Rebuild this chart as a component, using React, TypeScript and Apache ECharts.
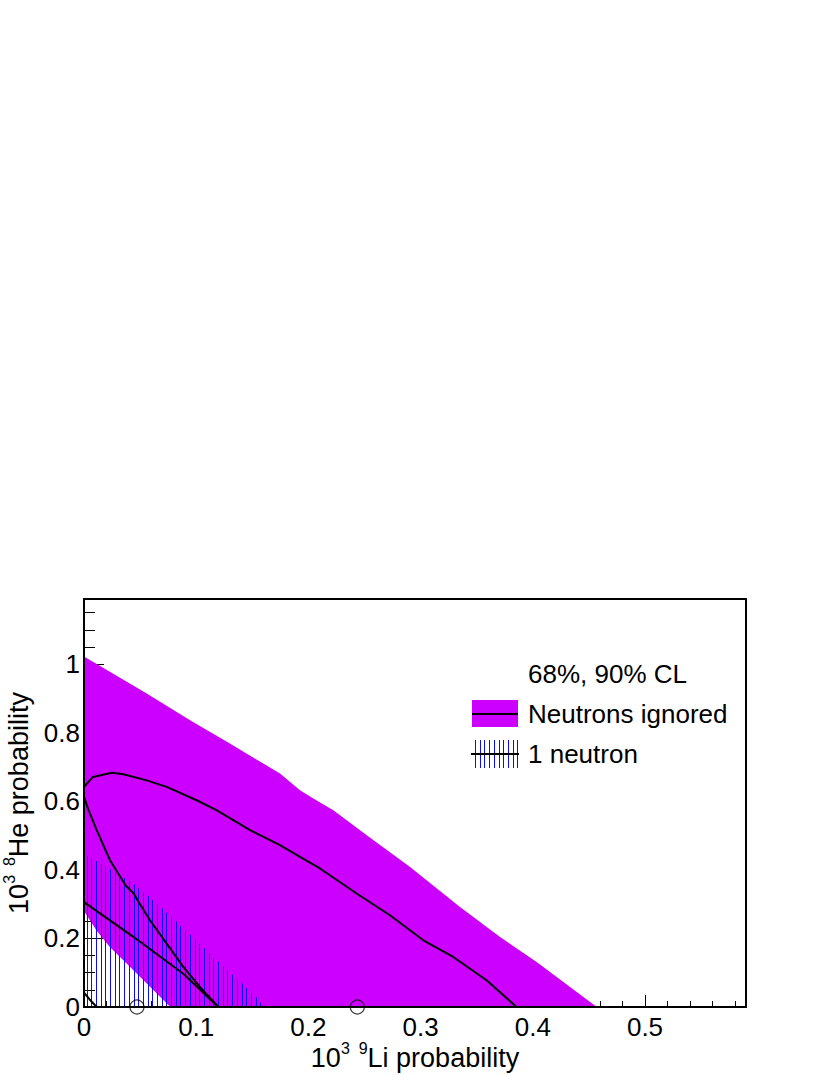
import React, { useEffect, useRef } from "react";
import * as echarts from "echarts";

// ---------- data ----------
const xMin = 0;
const xMax = 0.59;
const yMin = 0;
const yMax = 1.19;
const xMajorStep = 0.1;
const xMinorStep = 0.02;
const yMajorStep = 0.2;
const yMinorStep = 0.05;

// 90% CL, neutrons ignored: outer boundary (upper right edge of magenta band)
const ignored90Outer: [number, number][] = [
  [0, 1.022], [0.0559, 0.9145], [0.0945, 0.8366], [0.13, 0.7686], [0.1747, 0.681],
  [0.1925, 0.632], [0.2044, 0.608], [0.2222, 0.574], [0.252, 0.501], [0.2906, 0.4085],
  [0.3351, 0.2918], [0.3708, 0.2043], [0.4034, 0.1313], [0.4332, 0.0584], [0.457, 0],
];
// 90% CL, neutrons ignored: inner boundary (near origin)
const ignored90Inner: [number, number][] = [
  [0, 0.28], [0.011, 0.224], [0.023, 0.175], [0.038, 0.127], [0.053, 0.078],
  [0.068, 0.029], [0.077, 0],
];
// 68% CL contour, neutrons ignored
const ignored68: [number, number][] = [
  [0.1197, 0], [0.1034, 0.058], [0.0885, 0.117], [0.0737, 0.185], [0.0588, 0.253],
  [0.048, 0.31], [0.0443, 0.331], [0.037, 0.355], [0.0232, 0.428], [0.0113, 0.516],
  [0.004, 0.575], [0, 0.613], [0, 0.642], [0.008, 0.671], [0.0247, 0.683],
  [0.035, 0.679], [0.0559, 0.661], [0.0737, 0.642], [0.1004, 0.603], [0.118, 0.574],
  [0.148, 0.516], [0.1747, 0.472], [0.1925, 0.438], [0.2103, 0.404], [0.243, 0.331],
  [0.2727, 0.2676], [0.3024, 0.1946], [0.3291, 0.1459], [0.3588, 0.0779], [0.3855, 0],
];
// 90% CL, 1 neutron: upper edge of hatched region
const neutron90Top: [number, number][] = [
  [0, 0.445], [0.02, 0.408], [0.04, 0.368], [0.06, 0.315], [0.08, 0.255], [0.1, 0.193],
  [0.12, 0.13], [0.14, 0.07], [0.155, 0.022], [0.16, 0],
];
// 68% CL contour, 1 neutron
const neutron68Upper: [number, number][] = [
  [0, 0.306], [0.0443, 0.204], [0.0885, 0.097], [0.1197, 0],
];
const neutron68Corner: [number, number][] = [
  [0, 0.042], [0.005, 0.022], [0.0105, 0.003], [0.012, 0],
];
// best-fit points
const bestFitPoints: [number, number][] = [
  [0.0472, 0], [0.2436, 0],
];

const legendHeader = "68%, 90% CL";
const legendNames = ["Neutrons ignored", "1 neutron"];
const xTitleRich = "{n|10}{s|3  9}{n|Li probability}";
const yTitleRich = "{n|10}{s|3  8}{n|He probability}";

// ---------- style ----------
const FONT = "'Liberation Sans', Arial, Helvetica, sans-serif";
const MAGENTA = "#cc00ff";
const BLUE = "#0a0aff";
const HATCH_STEP = 4.7;

const fmt = (v: number) => String(Math.round(v * 100) / 100);

const titleRich = {
  n: { fontSize: 27, fontFamily: FONT, color: "#000", lineHeight: 31, verticalAlign: "bottom" },
  s: { fontSize: 16, fontFamily: FONT, color: "#000", lineHeight: 10, verticalAlign: "top" },
};

function buildLegend() {
  const els: any[] = [];
  const txt = (text: string, y: number) => ({
    type: "text", x: 528, y, z: 20,
    style: { text, fontSize: 26, fontFamily: FONT, fill: "#000", verticalAlign: "middle", align: "left" },
  });
  els.push(txt(legendHeader, 674));
  els.push({ type: "rect", z: 20, shape: { x: 472, y: 700, width: 46, height: 27 }, style: { fill: MAGENTA } });
  els.push({ type: "line", z: 21, shape: { x1: 472, y1: 714, x2: 518, y2: 714 }, style: { stroke: "#000", lineWidth: 2 } });
  els.push(txt(legendNames[0], 714));
  for (let i = 0; i < 10; i++) {
    const x = Math.round(475 + i * 4.7) + 0.5;
    els.push({ type: "line", z: 20, shape: { x1: x, y1: 740, x2: x, y2: 768 }, style: { stroke: BLUE, lineWidth: 1 } });
  }
  els.push({ type: "line", z: 21, shape: { x1: 471, y1: 754, x2: 519, y2: 754 }, style: { stroke: "#000", lineWidth: 2 } });
  els.push(txt(legendNames[1], 754));
  return els;
}

export default function App() {
  const ref = useRef<HTMLDivElement>(null);

  useEffect(() => {
    if (!ref.current) return;
    const chart = echarts.init(ref.current, null, { renderer: "svg" });
    const gridBox = { left: 84, right: 84, top: 599, bottom: 68 };

    const option: any = {
      animation: false,
      backgroundColor: "#fff",
      textStyle: { fontFamily: FONT },
      grid: [
        {
          ...gridBox, outerBoundsMode: "none", containLabel: false,
          show: true, borderColor: "#000", borderWidth: 2, backgroundColor: "transparent", z: 10,
        },
        { ...gridBox, outerBoundsMode: "none", containLabel: false, show: false },
      ],
      xAxis: [
        {
          type: "value", gridIndex: 0, min: xMin, max: xMax, interval: xMajorStep, position: "bottom",
          axisLine: { show: false }, splitLine: { show: false },
          axisTick: { show: true, inside: true, length: 12, lineStyle: { color: "#000", width: 1 } },
          axisLabel: {
            show: true, showMaxLabel: false, formatter: (v: number) => fmt(v),
            fontSize: 26, fontFamily: FONT, color: "#000", margin: 7,
          },
          name: xTitleRich, nameLocation: "middle", nameGap: 21,
          nameTextStyle: { fontSize: 27, fontFamily: FONT, color: "#000", rich: titleRich },
        },
        {
          type: "value", gridIndex: 1, min: xMin, max: xMax, interval: xMinorStep, position: "bottom",
          axisLine: { show: false }, splitLine: { show: false }, axisLabel: { show: false },
          axisTick: { show: true, inside: true, length: 6, lineStyle: { color: "#000", width: 1 } },
        },
      ],
      yAxis: [
        {
          type: "value", gridIndex: 0, min: yMin, max: yMax, interval: yMajorStep, position: "left",
          axisLine: { show: false }, splitLine: { show: false },
          axisTick: { show: true, inside: true, length: 20, lineStyle: { color: "#000", width: 1 } },
          axisLabel: {
            show: true, showMaxLabel: false, formatter: (v: number) => fmt(v),
            fontSize: 26, fontFamily: FONT, color: "#000", margin: 4,
          },
          name: yTitleRich, nameLocation: "middle", nameGap: 46,
          nameTextStyle: { fontSize: 27, fontFamily: FONT, color: "#000", rich: titleRich },
        },
        {
          type: "value", gridIndex: 1, min: yMin, max: yMax, interval: yMinorStep, position: "left",
          axisLine: { show: false }, splitLine: { show: false }, axisLabel: { show: false },
          axisTick: { show: true, inside: true, length: 11, lineStyle: { color: "#000", width: 1 } },
        },
      ],
      series: [
        {
          type: "custom", name: "Neutrons ignored 90%", z: 1, xAxisIndex: 0, yAxisIndex: 0,
          data: [[0, 0]],
          renderItem: (_p: any, api: any) => {
            const poly = [...ignored90Outer, ...[...ignored90Inner].reverse()];
            const points = poly.map((p) => api.coord(p));
            return { type: "polygon", shape: { points }, style: { fill: MAGENTA } };
          },
        },
        {
          type: "custom", name: "1 neutron 90%", z: 2, xAxisIndex: 0, yAxisIndex: 0,
          data: [[0, 0]],
          renderItem: (_p: any, api: any) => {
            const pts = neutron90Top.map((p) => api.coord(p));
            const base = api.coord([0, 0])[1];
            const children: any[] = [];
            const x0 = pts[0][0];
            const xEnd = pts[pts.length - 1][0];
            for (let x = x0 + 2.5; x < xEnd; x += HATCH_STEP) {
              let k = 0;
              while (k < pts.length - 2 && pts[k + 1][0] < x) k++;
              const [ax, ay] = pts[k];
              const [bx, by] = pts[k + 1];
              const t = (x - ax) / (bx - ax);
              const yTop = ay + t * (by - ay);
              const px = Math.round(x) + 0.5;
              children.push({
                type: "line",
                shape: { x1: px, y1: base, x2: px, y2: yTop },
                style: { stroke: BLUE, lineWidth: 1 },
              });
            }
            return { type: "group", children };
          },
        },
        {
          type: "line", name: "Neutrons ignored 68%", z: 3, xAxisIndex: 0, yAxisIndex: 0,
          data: ignored68, showSymbol: false, symbol: "none",
          lineStyle: { color: "#000", width: 2 }, clip: false,
        },
        {
          type: "line", name: "1 neutron 68%", z: 3, xAxisIndex: 0, yAxisIndex: 0,
          data: neutron68Upper, showSymbol: false, symbol: "none",
          lineStyle: { color: "#000", width: 2 }, clip: false,
        },
        {
          type: "line", name: "1 neutron 68% corner", z: 3, xAxisIndex: 0, yAxisIndex: 0,
          data: neutron68Corner, showSymbol: false, symbol: "none",
          lineStyle: { color: "#000", width: 2 }, clip: false,
        },
        {
          type: "scatter", name: "best fit", z: 4, xAxisIndex: 0, yAxisIndex: 0,
          data: bestFitPoints, symbol: "circle", symbolSize: 14,
          itemStyle: { color: "rgba(0,0,0,0)", borderColor: "#000", borderWidth: 1.2 }, clip: false,
        },
      ],
      graphic: { elements: buildLegend() },
    };

    chart.setOption(option);
    return () => chart.dispose();
  }, []);

  return (
    <div
      ref={ref}
      style={{ position: "fixed", left: 0, top: 0, width: 830, height: 1075, background: "#fff" }}
    />
  );
}
